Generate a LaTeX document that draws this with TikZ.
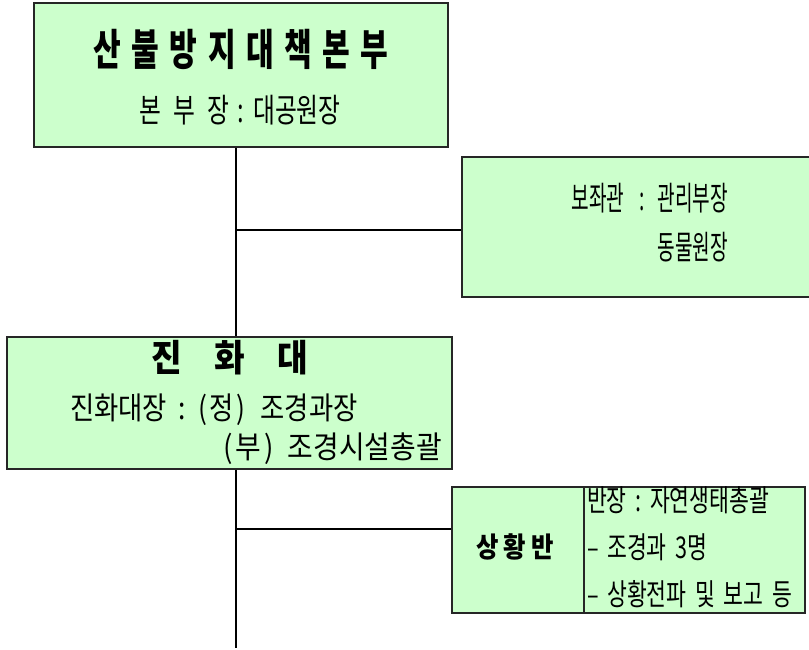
\documentclass[tikz,border=0pt]{standalone}
\usepackage{fontspec}
\usepackage{graphicx}
\setmainfont{Noto Sans CJK KR}
\usetikzlibrary{shadows}
\definecolor{boxgreen}{HTML}{CCFFCC}
\newcommand\kx[3]{\scalebox{#1}[1]{\fontsize{#2}{#2}\selectfont #3}}
\tikzset{
  orgbox/.style={draw=black!85, line width=1.3pt, fill=boxgreen, inner sep=0pt,
    drop shadow={shadow xshift=1pt, shadow yshift=-1.2pt, fill=black!45, opacity=1}},
  conn/.style={draw=black, line width=1.3pt},
  txt/.style={inner sep=0pt, outer sep=0pt, text=black},
}
\begin{document}
\begin{tikzpicture}[x=1pt,y=-1pt]
\useasboundingbox (0,0) rectangle (809,649);
\begin{scope}
\clip (0,0) rectangle (809,649);
% boxes
\node[orgbox, minimum width=414pt, minimum height=144pt] (hq) at (241,75) {};
\node[orgbox, minimum width=353pt, minimum height=140pt] (aide) at (638.5,227) {};
\node[orgbox, minimum width=445pt, minimum height=132pt] (crew) at (229.5,403) {};
\node[orgbox, minimum width=353pt, minimum height=126pt] (sit) at (628.5,550) {};
\end{scope}
\draw[draw=black!85, line width=1.2pt] (584,487) coordinate (dtop) -- (dtop |- sit.south);
% texts
\node[txt] (hqt) at (241,49) {\kx{0.70}{43}{\bfseries 산\hspace{15pt}불\hspace{15pt}방\hspace{15pt}지\hspace{15pt}대\hspace{15pt}책\hspace{15pt}본\hspace{15pt}부}};
\node[txt] (hqs) at (240,110) {\kx{0.72}{33}{본\hspace{17pt}부\hspace{17pt}장\hspace{12pt}:\hspace{12pt}대공원장}};
\node[txt, anchor=east] (aide1) at (728,198) {\kx{0.58}{33}{보좌관\hspace{26pt}:\hspace{22pt}관리부장}};
\node[txt, anchor=east] (aide2) at (728,247) {\kx{0.58}{33}{동물원장}};
\node[txt] (crewt) at (230,358) {\kx{0.90}{37}{\bfseries 진\hspace{36pt}화\hspace{36pt}대}};
\node[txt, anchor=west] (crew1) at (70,410) {\kx{0.85}{31}{진화대장\hspace{14pt}:\hspace{14pt}(\hspace{3pt}정\hspace{3pt})\hspace{18pt}조경과장}};
\node[txt, anchor=east] (crew2) at (442,449) {\kx{0.9}{31}{(\hspace{3pt}부\hspace{3pt})\hspace{16pt}조경시설총괄}};
\node[txt] (sitt) at (515,547) {\kx{0.87}{28}{\bfseries 상\hspace{6pt}황\hspace{6pt}반}};
\node[txt, anchor=west] (sit1) at (587,500) {\kx{0.72}{30}{반장\hspace{12pt}:\hspace{12pt}자연생태총괄}};
\node[txt, anchor=west] (sit2) at (587,547) {\kx{0.72}{30}{–\hspace{12pt}조경과\hspace{12pt}3명}};
\node[txt, anchor=west] (sit3) at (587,594) {\kx{0.72}{30}{–\hspace{12pt}상황전파\hspace{12pt}및\hspace{12pt}보고\hspace{12pt}등}};
% connectors
\coordinate (j1) at (236,230);
\coordinate (j2) at (236,529);
\coordinate (bottom) at (236,648);
\draw[conn] (hq.south -| j1) -- (crew.north -| j1);
\draw[conn] (crew.south -| j1) -- (bottom);
\draw[conn] (j1) -- (j1 -| aide.west);
\draw[conn] (j2) -- (j2 -| sit.west);
\end{tikzpicture}
\end{document}
